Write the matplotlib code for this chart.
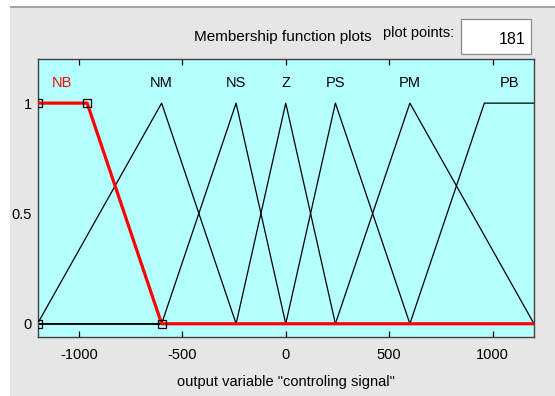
import numpy as np
import matplotlib
matplotlib.use("Agg")
from matplotlib import pyplot as plt
from matplotlib.patches import Rectangle

plt.rcParams['font.family'] = ['DejaVu Sans Condensed', 'Liberation Sans Narrow', 'Liberation Sans']

# membership functions of "controling signal" (params as in the FIS editor)
mf_names = ['NB', 'NM', 'NS', 'Z', 'PS', 'PM', 'PB']
mf_params = [
    [-1200, -1200, -960, -600],   # trapmf
    [-1200, -600, -240],          # trimf
    [-600, -240, 0],
    [-240, 0, 240],
    [0, 240, 600],
    [240, 600, 1200],
    [600, 960, 1200, 1200],       # trapmf
]
label_pos = [-1080, -600, -240, 0, 240, 600, 1080]
selected = 0
n_points = 181
x_range = (-1200, 1200)
x_ticks = [-1000, -500, 0, 500, 1000]
y_ticks = [0, 0.5, 1]


def mf_values(x, p):
    if len(p) == 3:
        a, b, c, d = p[0], p[1], p[1], p[2]
    else:
        a, b, c, d = p
    if b > a:
        up = (x - a) / (b - a)
    else:
        up = np.where(x >= a, 1.0, 0.0)
    if d > c:
        down = (d - x) / (d - c)
    else:
        down = np.where(x <= d, 1.0, 0.0)
    return np.clip(np.minimum(np.minimum(up, down), 1.0), 0.0, 1.0)


fig = plt.figure(figsize=(5.55, 3.96), dpi=100)
W, H = 555, 396
fig.patch.set_facecolor('#e6e6e6')
# white strips on the left and top, plus a thin separator line
fig.add_artist(Rectangle((0, 0), 10 / W, 1, transform=fig.transFigure, color='white', lw=0))
fig.add_artist(Rectangle((0, 1 - 6 / H), 1, 6 / H, transform=fig.transFigure, color='white', lw=0))
fig.add_artist(Rectangle((10 / W, 1 - 8 / H), 1, 2 / H, transform=fig.transFigure, color='#a0a4ac', lw=0))

ax = fig.add_axes([37.5 / W, 1 - 337 / H, (534 - 37.5) / W, (337 - 59) / H])
ax.set_facecolor('#b4ffff')

x = np.linspace(x_range[0], x_range[1], n_points)
for i, p in enumerate(mf_params):
    if i != selected:
        ax.plot(x, mf_values(x, p), color='black', lw=0.9)
sp = mf_params[selected]
ax.plot(x, mf_values(x, sp), color='red', lw=2.3, zorder=3)
marker_y = [0, 1, 1, 0] if len(sp) == 4 else [0, 1, 0]
ax.plot(sp, marker_y, ls='none', marker='s', ms=6, mfc='none', mec='black', mew=0.9,
        zorder=4, clip_on=True)

for i, (name, lx) in enumerate(zip(mf_names, label_pos)):
    ax.text(lx, 1.09, name, ha='center', va='center', fontsize=10.5,
            color='red' if i == selected else 'black')

ax.set_xlim(*x_range)
ax.set_ylim(-0.06, 1.2)
ax.set_xticks(x_ticks)
ax.set_xticklabels([str(t) for t in x_ticks])
ax.set_yticks(y_ticks)
ax.set_yticklabels(['0', '0.5', '1'])
ax.tick_params(axis='x', direction='in', length=4, width=0.9, top=True, labelsize=10.5, pad=8)
ax.tick_params(axis='y', direction='in', length=0, labelsize=10.5, pad=4)
for s in ax.spines.values():
    s.set_color('#404040')
    s.set_linewidth(1.0)
ax.set_xlabel('output variable "controling signal"', fontsize=10.5, labelpad=9)

fig.text(283 / W, 1 - 37 / H, 'Membership function plots', ha='center', va='center', fontsize=11)
fig.text(419 / W, 1 - 33 / H, 'plot points:', ha='center', va='center', fontsize=10.5)
fig.add_artist(Rectangle((461 / W, 1 - 54 / H), (531 - 461) / W, (54 - 19) / H,
                         transform=fig.transFigure, facecolor='white', edgecolor='#8a8a8a', lw=0.9))
fig.text(526 / W, 1 - 39 / H, '181', ha='right', va='center', fontsize=11.5)

fig.savefig('out.png', dpi=100, facecolor=fig.get_facecolor())
